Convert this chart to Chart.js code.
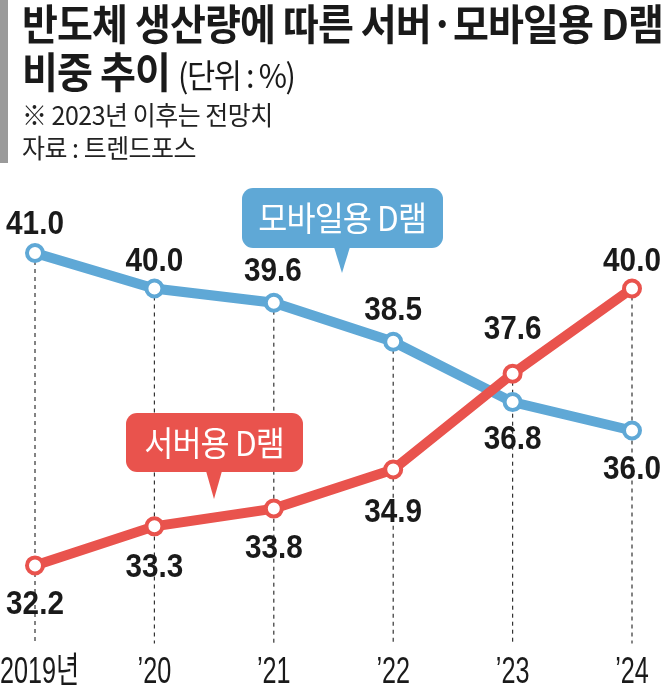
<!DOCTYPE html>
<html>
<head>
<meta charset="utf-8">
<script src="https://cdn.jsdelivr.net/npm/chart.js@4/dist/chart.umd.min.js"></script>
<style>
  body { margin: 0; background: #fff; }
  #wrap { position: relative; width: 667px; height: 691px; overflow: hidden; }
  #chartBox { position: absolute; left: 0; top: 0; width: 667px; height: 691px; }
  .bar { position: absolute; left: 0; top: 0; width: 8px; height: 163px; background: #9a9a9a; }
  .t { position: absolute; left: 22px; white-space: nowrap; color: #1a1a1a; transform-origin: left top; font-family: "Noto Sans CJK KR", sans-serif; }
  .t1 { top: -9px; font-size: 42px; font-weight: 700; transform: scaleX(0.93); letter-spacing: -1px; }
  .t2 { top: 39px; font-size: 42px; font-weight: 700; transform: scaleX(0.93); letter-spacing: -1px; }
  .t2 span { font-size: 33px; font-weight: 400; letter-spacing: -1.5px; }
  .t3 { top: 95px; font-size: 26px; font-weight: 400; transform: scaleX(0.96); letter-spacing: -0.5px; color: #222; }
  .t4 { top: 128px; font-size: 26px; font-weight: 400; transform: scaleX(0.96); letter-spacing: -0.5px; color: #222; }
  .callout { position: absolute; border-radius: 11px; color: #fff; font-family: "Noto Sans CJK KR", sans-serif; font-size: 34px; text-align: center; }
  .callout .txt { display: inline-block; transform: scaleX(0.93); letter-spacing: -1px; }
  .callout::after { content: ""; position: absolute; width: 0; height: 0; border-left: 8px solid transparent; border-right: 8px solid transparent; }
  .mob { left: 242px; top: 188px; width: 201px; height: 60px; line-height: 58px; background: #5fa8d6; }
  .mob::after { left: 92px; top: 59px; border-top: 26px solid #5fa8d6; }
  .srv { left: 126px; top: 413px; width: 177px; height: 59px; line-height: 57px; background: #e9534d; }
  .srv::after { left: 80px; top: 58px; border-top: 28px solid #e9534d; }
</style>
</head>
<body>
<div id="wrap">
  <div id="chartBox"><canvas id="myChart"></canvas></div>
  <div class="bar"></div>
  <div class="t t1">반도체 생산량에 따른 서버·모바일용 D램</div>
  <div class="t t2">비중 추이 <span>(단위 : %)</span></div>
  <div class="t t3">※ 2023년 이후는 전망치</div>
  <div class="t t4">자료 : 트렌드포스</div>
  <div class="callout mob"><span class="txt">모바일용 D램</span></div>
  <div class="callout srv"><span class="txt">서버용 D램</span></div>
</div>
<script>
const labels = ["2019년", "’20", "’21", "’22", "’23", "’24"];

const mobileData = [41.0, 40.0, 39.6, 38.5, 36.8, 36.0];

const serverData = [32.2, 33.3, 33.8, 34.9, 37.6, 40.0];

// where each value label sits relative to its point [dx, dy]
const mobileLabelPos = [[0, -31], [0, -30], [-1, -34], [0, -34], [0, 35], [0, 36]];
const serverLabelPos = [[0, 37], [0, 39], [0, 37], [0, 40], [0, -47], [0, -30]];

const blue = "#5fa8d6";
const red = "#e9534d";

const ctx = document.getElementById("myChart");

// condensed text: draw scaled horizontally around x
function narrowText(c, text, x, y, sx) {
  c.save();
  c.translate(x, y);
  c.scale(sx, 1);
  c.fillText(text, 0, 0);
  c.restore();
}

// dashed drop lines from the upper point of each year down to the bottom
const dropLines = {
  id: "dropLines",
  beforeDatasetsDraw(chart) {
    const { ctx, chartArea, scales } = chart;
    ctx.save();
    ctx.strokeStyle = "#333";
    ctx.lineWidth = 1.2;
    ctx.setLineDash([4, 4]);
    labels.forEach((l, i) => {
      const x = scales.x.getPixelForValue(i);
      const top = scales.y.getPixelForValue(Math.max(mobileData[i], serverData[i]));
      ctx.beginPath();
      ctx.moveTo(x, top);
      ctx.lineTo(x, chartArea.bottom);
      ctx.stroke();
    });
    ctx.restore();
  },
};

// value labels + year labels
const textLayer = {
  id: "textLayer",
  afterDatasetsDraw(chart) {
    const { ctx, chartArea, scales } = chart;
    ctx.save();
    ctx.fillStyle = "#1a1a1a";
    ctx.textAlign = "center";
    ctx.textBaseline = "alphabetic";
    ctx.font = "bold 33px 'Liberation Sans', Arial, sans-serif";
    chart.data.datasets.forEach((ds, di) => {
      const meta = chart.getDatasetMeta(di);
      meta.data.forEach((pt, i) => {
        const off = ds.labelPos[i];
        narrowText(ctx, ds.data[i].toFixed(1), pt.x + off[0], pt.y + off[1] + 12, 0.9);
      });
    });

    ctx.font = "36px 'Liberation Sans', 'Noto Sans CJK KR', sans-serif";
    labels.forEach((l, i) => {
      const w = ctx.measureText(l).width * 0.7;
      let x = scales.x.getPixelForValue(i);
      if (x - w / 2 < 0) x = w / 2;
      narrowText(ctx, l, x, chartArea.bottom + 39, 0.7);
    });
    ctx.restore();
  },
};

const myChart = new Chart(ctx, {
  type: "line",
  data: {
    labels: labels,
    datasets: [
      {
        label: "서버용 D램",
        data: serverData,
        labelPos: serverLabelPos,
        borderColor: red,
        borderWidth: 10,
        pointRadius: 8,
        pointBorderWidth: 4,
        pointBackgroundColor: "#fff",
        pointBorderColor: red,
        fill: false,
        tension: 0,
        order: 0,
      },
      {
        label: "모바일용 D램",
        data: mobileData,
        labelPos: mobileLabelPos,
        borderColor: blue,
        borderWidth: 10,
        pointRadius: 8,
        pointBorderWidth: 4,
        pointBackgroundColor: "#fff",
        pointBorderColor: blue,
        fill: false,
        tension: 0,
        order: 1,
      },
    ],
  },
  options: {
    responsive: true,
    maintainAspectRatio: false,
    animation: false,
    layout: {
      autoPadding: false,
      padding: { left: 35, right: 35, top: 182, bottom: 47.5 },
    },
    plugins: {
      legend: { display: false },
      tooltip: { enabled: false },
    },
    scales: {
      x: {
        display: false,
        offset: false,
      },
      y: {
        display: false,
        min: 30,
        max: 43,
      },
    },
  },
  plugins: [dropLines, textLayer],
});
</script>
</body>
</html>
